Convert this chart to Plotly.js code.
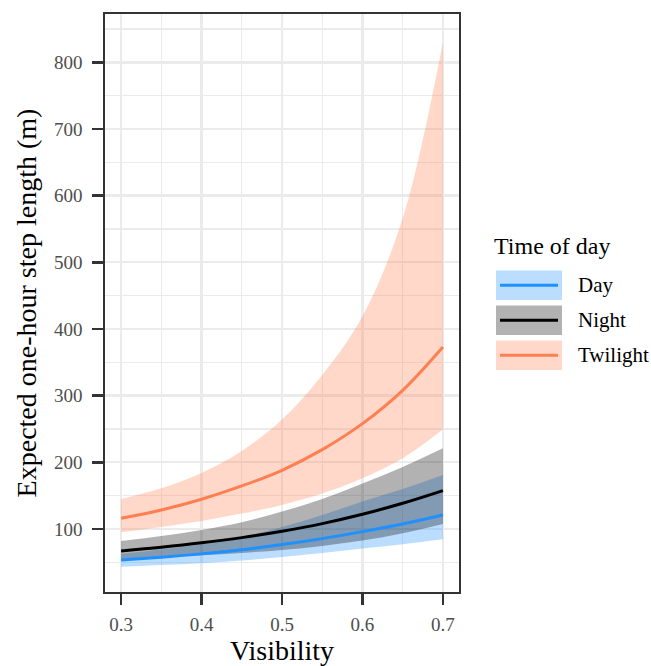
<!DOCTYPE html>
<html>
<head>
<meta charset="utf-8">
<script src="https://cdn.plot.ly/plotly-3.0.1.min.js"></script>
<style>html,body{margin:0;padding:0;background:#fff;}#chart{width:651px;height:666px;}</style>
</head>
<body>
<div id="chart"></div>
<script>
// ---- data ----
const visibility = [0.30, 0.35, 0.40, 0.45, 0.50, 0.55, 0.60, 0.65, 0.70];

const dayMean  = [53.4, 57.6, 62.6, 68.8, 76.5, 85.5, 96, 107.5, 121];
const dayLower = [43.4, 46, 48.5, 52.5, 58, 64, 70.5, 77, 84.5];
const dayUpper = [62.5, 69, 77, 88, 103, 121, 141, 160, 181];

const nightMean  = [67, 72.6, 79.2, 87, 96.5, 108, 122, 138.5, 157.5];
const nightLower = [55, 57.5, 60.5, 64, 68.5, 74.5, 82.5, 93.5, 107.5];
const nightUpper = [82, 89.5, 98.5, 110, 126, 145, 168, 193, 221];

const twilightMean  = [116, 128.5, 144.6, 164.5, 188, 219, 258, 308, 373];
const twilightLower = [95, 103, 112, 123, 136, 153, 176, 206, 249];
const twilightUpper = [145, 161, 184, 217, 264, 331, 419, 566, 830];

const groups = ['Day', 'Night', 'Twilight'];
const xTicks = [0.3, 0.4, 0.5, 0.6, 0.7];
const yTicks = [100, 200, 300, 400, 500, 600, 700, 800];

// ---- styles ----
const lineColors = {Day: '#1E90FF', Night: '#000000', Twilight: '#FF7F50'};
const fillColors = {Day: 'rgba(30,144,255,0.3)', Night: 'rgba(0,0,0,0.3)', Twilight: 'rgba(255,127,80,0.3)'};
const series = {
  Day: {m: dayMean, lo: dayLower, hi: dayUpper},
  Night: {m: nightMean, lo: nightLower, hi: nightUpper},
  Twilight: {m: twilightMean, lo: twilightLower, hi: twilightUpper}
};
const FONT = '"Liberation Serif", "Times New Roman", serif';
const XR = [0.28, 0.72], YR = [5.4, 872.5];

const traces = [];
// invisible trace carrying the minor-grid axes
traces.push({x: [XR[0]], y: [YR[0]], xaxis: 'x2', yaxis: 'y2', type: 'scatter', mode: 'markers',
  marker: {opacity: 0}, showlegend: false, hoverinfo: 'skip'});
groups.forEach(g => {
  traces.push({x: visibility, y: series[g].lo, type: 'scatter', mode: 'lines',
    line: {width: 0, shape: 'spline', smoothing: 1}, showlegend: false, hoverinfo: 'skip'});
  traces.push({x: visibility, y: series[g].hi, type: 'scatter', mode: 'lines', fill: 'tonexty',
    fillcolor: fillColors[g], line: {width: 0, shape: 'spline', smoothing: 1}, showlegend: false, hoverinfo: 'skip'});
});
groups.forEach(g => {
  traces.push({x: visibility, y: series[g].m, type: 'scatter', mode: 'lines', name: g,
    line: {color: lineColors[g], width: 3, shape: 'spline', smoothing: 1}, showlegend: false});
});

// ---- manual ggplot-like legend ----
const W = 651, H = 666, L = 105, R = 459, T = 14, B = 592;
const px = v => (v - L) / (R - L);
const py = v => (B - v) / (B - T);
const shapes = [];
const annotations = [];
const boxTop = [270.5, 305.5, 340.5];
const boxH = 29.5;
groups.forEach((g, i) => {
  const t = boxTop[i];
  shapes.push({type: 'rect', xref: 'paper', yref: 'paper', x0: px(496), x1: px(562), y0: py(t + boxH), y1: py(t),
    fillcolor: '#ffffff', line: {width: 0}});
  shapes.push({type: 'rect', xref: 'paper', yref: 'paper', x0: px(496), x1: px(562), y0: py(t + boxH), y1: py(t),
    fillcolor: fillColors[g], line: {width: 0}});
  shapes.push({type: 'line', xref: 'paper', yref: 'paper', x0: px(500), x1: px(558), y0: py(t + boxH / 2), y1: py(t + boxH / 2),
    line: {color: lineColors[g], width: 3}});
  annotations.push({xref: 'paper', yref: 'paper', x: px(576), y: py(t + boxH / 2), xanchor: 'left', yanchor: 'middle',
    text: g, showarrow: false, font: {family: FONT, size: 21, color: '#000'}});
});
annotations.push({xref: 'paper', yref: 'paper', x: px(492), y: py(246), xanchor: 'left', yanchor: 'middle',
  text: 'Time of day', showarrow: false, font: {family: FONT, size: 24, color: '#000'}});

const tickFont = {family: FONT, size: 19, color: '#4D4D4D'};

const layout = {
  width: W, height: H,
  margin: {l: L, r: W - R, t: T, b: H - B},
  paper_bgcolor: '#ffffff', plot_bgcolor: '#ffffff',
  showlegend: false,
  xaxis2: {overlaying: 'x', range: XR, dtick: 0.05, tick0: 0.3, showgrid: true, gridcolor: '#EBEBEB', gridwidth: 1.2,
    showticklabels: false, ticks: '', zeroline: false, showline: false},
  yaxis2: {overlaying: 'y', range: YR, dtick: 50, tick0: 0, showgrid: true, gridcolor: '#EBEBEB', gridwidth: 1.2,
    showticklabels: false, ticks: '', zeroline: false, showline: false},
  xaxis: {
    showline: true, mirror: true, linecolor: '#333333', linewidth: 1.8,
    ticks: 'outside', ticklen: 11, tickwidth: 2.8, tickcolor: '#333333',
    showgrid: true, gridcolor: '#EBEBEB', gridwidth: 2.4, zeroline: false,
    tickfont: tickFont,
    range: XR, tickvals: xTicks, ticktext: xTicks.map(v => v.toFixed(1)),
    ticklabelstandoff: 3,
    title: {text: 'Visibility', font: {family: FONT, size: 28, color: '#000'}, standoff: 9}
  },
  yaxis: {
    showline: true, mirror: true, linecolor: '#333333', linewidth: 1.8,
    ticks: 'outside', ticklen: 11, tickwidth: 2.8, tickcolor: '#333333',
    showgrid: true, gridcolor: '#EBEBEB', gridwidth: 2.4, zeroline: false,
    tickfont: tickFont,
    range: YR, tickvals: yTicks, ticktext: yTicks.map(String),
    ticklabelstandoff: 6,
    title: {text: 'Expected one-hour step length (m)', font: {family: FONT, size: 28, color: '#000'}, standoff: 9}
  },
  shapes: shapes,
  annotations: annotations
};

Plotly.newPlot('chart', traces, layout, {displayModeBar: false, staticPlot: true});
</script>
</body>
</html>
